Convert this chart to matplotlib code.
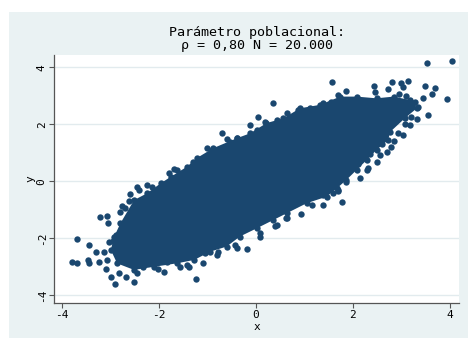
import matplotlib
matplotlib.use("Agg")
import matplotlib.pyplot as plt
from matplotlib.patches import Rectangle

plt.rcParams['font.family'] = ['DejaVu Sans Mono']
plt.rcParams['axes.unicode_minus'] = False

# ---- data ----
title_line1 = "Parámetro poblacional:"
title_line2 = "ρ = 0,80 N = 20.000"
x_label = "x"
y_label = "y"
x_ticks = [-4, -2, 0, 2, 4]
y_ticks = [-4, -2, 0, 2, 4]

# outline of the dense, fully covered core of the point cloud
core_x = [-2.99, -2.92, -2.79, -2.51, -2.24, -1.96, -1.75, -1.42, -1.22, -0.88,
          -0.39, -0.12, 0.22, 0.57, 0.91, 1.32, 1.74, 2.08, 2.49, 2.84,
          3.18, 3.32, 3.08, 2.77, 2.73, 2.49, 2.29, 2.08, 1.87, 1.67,
          1.46, 1.05, 0.64, 0.36, 0.02, -0.33, -0.60, -0.94, -1.27, -1.63,
          -2.10, -2.51, -2.86]
core_y = [-2.41, -1.94, -1.47, -0.66, -0.42, -0.07, 0.16, 0.51, 0.81, 1.16,
          1.51, 1.68, 2.04, 2.21, 2.56, 2.68, 2.97, 2.97, 2.91, 2.97,
          2.85, 2.56, 2.22, 1.73, 1.45, 1.10, 0.75, 0.40, 0.05, -0.25,
          -0.54, -0.77, -1.12, -1.36, -1.65, -1.94, -2.29, -2.47, -2.76, -2.88,
          -3.00, -3.11, -2.88]

# points sitting on the ragged edge of the core
edge_x = [-1.63, -1.29, -0.91, -0.53, -0.38, 0.02, 0.19, 0.43, 0.64, 0.88,
          1.12, 1.39, 1.70, 1.77, -1.84, -1.42, -1.05, -0.77, -0.43, -0.39,
          0.09, 0.43, 0.64, 1.15, 1.39, 1.60, 1.70, -2.60, -2.40, -2.15,
          -2.70, -2.95, -2.85, 2.95, 3.10, 3.25, 2.60, 2.35, 2.10]
edge_y = [0.40, 0.69, 1.10, 1.39, 1.51, 1.80, 2.09, 2.15, 2.39, 2.50,
          2.56, 2.74, 3.03, 2.85, -2.82, -2.94, -2.53, -2.47, -2.24, -2.35,
          -1.82, -1.53, -1.30, -0.83, -0.48, -0.42, -0.31, -0.45, -0.30, -0.20,
          -0.95, -2.10, -2.65, 3.05, 2.98, 2.75, 1.30, 0.95, 0.62]

# individually visible points outside the core
pts_x = [-3.68, -3.80, -3.69, -3.44, -3.47, -3.44, -3.30, -3.23, -3.21, -3.07,
         -3.05, -3.13, -3.06, -3.09, -2.99, -2.91, -2.82, -2.68, -2.51, -2.44,
         -2.32, -2.46, -2.24, -2.61, -2.75, -2.79, -2.89, -3.03, -2.02, -1.89,
         -1.56, -1.38, -1.23, -1.79, -1.69, -1.01, -0.70, -0.59, -0.12, 0.05,
         0.35, 1.58, 1.86, 1.55, 2.44, 2.46, 2.73, 2.80, 2.99, 3.14,
         3.54, 4.04, 3.49, 3.69, 3.63, 3.45, 3.94, 3.56, 3.33, 3.20,
         3.08, 2.94, 3.04, 2.84, 2.78, 2.71, 2.56, 2.49, 2.32, 3.04,
         3.28, 3.35, 3.18, 2.15, 2.29, 1.77, 1.70, 1.39, 0.93, 0.62,
         0.40, 0.09, -0.18, -0.79, -1.08, 1.86]
pts_y = [-2.04, -2.82, -2.88, -2.24, -2.76, -2.88, -2.47, -2.82, -1.24, -1.22,
         -1.47, -2.47, -2.76, -3.09, -3.35, -3.61, -3.23, -3.35, -3.52, -3.23,
         -3.00, -0.19, -0.12, -0.68, -0.87, -1.07, -1.88, -2.12, -3.09, -3.17,
         -3.00, -3.00, -3.43, 0.30, 0.43, 1.16, 1.68, 1.47, 1.98, 2.25,
         2.74, 3.49, 3.18, 2.79, 3.35, 3.12, 3.24, 3.49, 3.44, 3.52,
         4.15, 4.21, 3.35, 3.26, 3.05, 2.93, 2.88, 2.33, 2.19, 2.27,
         2.00, 1.68, 1.62, 1.41, 1.21, 1.02, 0.92, 0.67, 0.46, 3.32,
         2.79, 2.62, 1.98, 0.11, 0.40, -0.72, -0.33, -0.83, -1.15, -1.30,
         -1.57, -1.94, -2.39, -2.59, -2.86, -0.01]

# ---- styling ----
navy = "#1a476f"
bg = "#eaf2f3"
grid_c = "#e2ebee"
axis_c = "#555555"
msize = 21

fig = plt.figure(figsize=(4.68, 3.38), dpi=100, facecolor="white")
fig.add_artist(Rectangle((9 / 468, 0), 1 - 9 / 468, 1 - 12 / 338,
                         transform=fig.transFigure, facecolor=bg,
                         edgecolor="none", zorder=-10))

ax = fig.add_axes([54.3 / 468, 1 - 302.7 / 338, (459.3 - 54.3) / 468, (302.7 - 54.7) / 338])
ax.set_zorder(1)
ax.set_facecolor("white")
ax.set_xlim(-4.155, 4.196)
ax.set_ylim(-4.26, 4.44)

for yt in y_ticks:
    ax.axhline(yt, color=grid_c, lw=1.0, zorder=1)

ax.fill(core_x, core_y, color=navy, lw=0, zorder=2)
ax.scatter(core_x, core_y, s=msize, color=navy, lw=0, zorder=3)
ax.scatter(edge_x, edge_y, s=msize, color=navy, lw=0, zorder=3)
ax.scatter(pts_x, pts_y, s=msize, color=navy, lw=0, zorder=3)

ax.set_xticks(x_ticks)
ax.set_yticks(y_ticks)
ax.set_xticklabels([str(v) for v in x_ticks])
ax.set_yticklabels([str(v) for v in y_ticks], rotation=90, va="center")
ax.tick_params(axis="both", length=3.5, width=0.8, color=axis_c, labelsize=8,
               labelcolor="black", pad=2)

for s in ["top", "right"]:
    ax.spines[s].set_visible(False)
for s in ["left", "bottom"]:
    ax.spines[s].set_color(axis_c)
    ax.spines[s].set_linewidth(0.9)

ax.set_xlabel(x_label, fontsize=8, labelpad=1)
ax.set_ylabel(y_label, fontsize=8, labelpad=1)

cx = (54.3 + 459.3) / 2 / 468
fig.text(cx, 1 - 32.7 / 338, title_line1, ha="center", va="center", fontsize=9.6)
fig.text(cx, 1 - 45.7 / 338, title_line2, ha="center", va="center", fontsize=9.6)

fig.savefig("out.png", dpi=100, facecolor="white")
